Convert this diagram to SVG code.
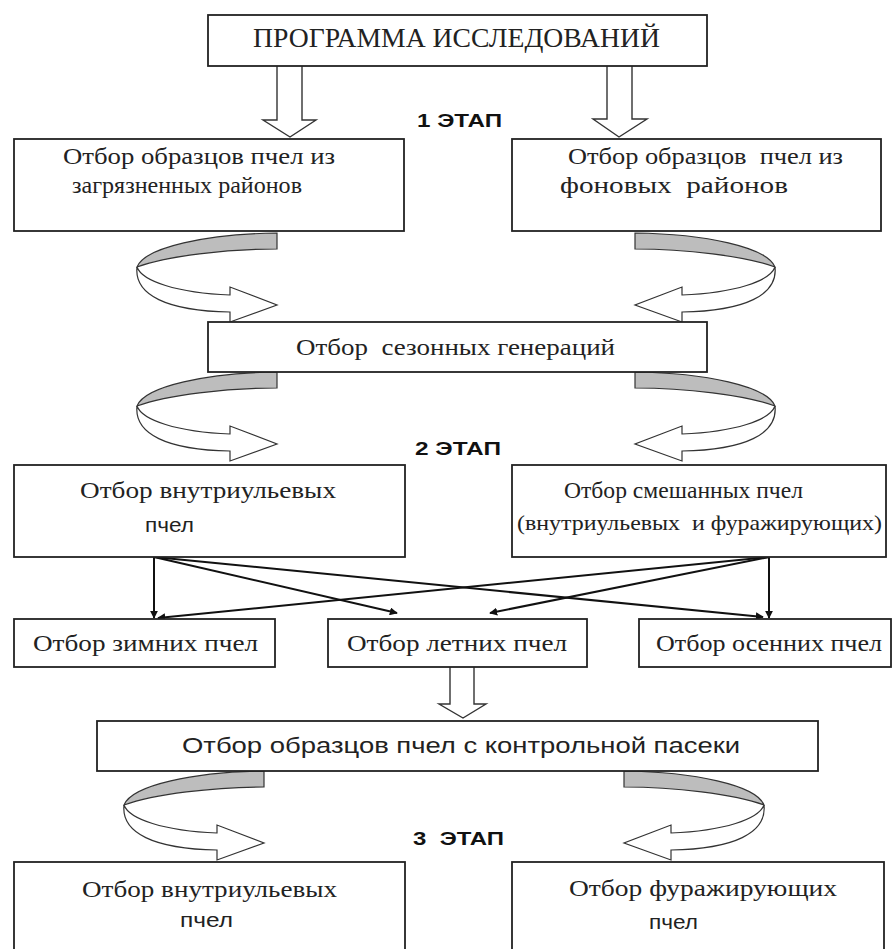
<svg xmlns="http://www.w3.org/2000/svg" width="893" height="949" viewBox="0 0 893 949">
<style>
.box{fill:#fff;stroke:#222;stroke-width:1.8}
.sr{font-family:"Liberation Serif","Times New Roman",serif;fill:#222}
.ss{font-family:"Liberation Sans",Arial,sans-serif;fill:#222}
.st{font-family:"Liberation Sans",Arial,sans-serif;font-weight:bold;font-size:18px;fill:#111}
.blk{fill:#fff;stroke:#333;stroke-width:1.4}
.gr{fill:#bdbdbd;stroke:#333;stroke-width:1.2}
.wh{fill:#fff;stroke:#333;stroke-width:1.2}
.ln{stroke:#111;stroke-width:2;fill:none;marker-end:url(#ah)}
</style>
<defs>
<marker id="ah" viewBox="0 0 10 10" refX="9" refY="5" markerWidth="4" markerHeight="4" orient="auto" markerUnits="strokeWidth">
<path d="M0,0 L10,5 L0,10 Z" fill="#111"/>
</marker>
<g id="curv">
<path class="gr" d="M0,0 C-70,1 -132,14 -140,34 C-110,23 -50,16 0,16 Z"/>
<path class="wh" d="M-140,34 C-135,48 -100,60 -47,62 L-47,54 L0,72 L-47,89 L-47,79 C-110,78 -143,62 -140,34 Z"/>
</g>
</defs>
<rect width="893" height="949" fill="#fff"/>

<g id="connectors">
<path class="blk" d="M277,66 L277,120 L263,120 L290,137 L316,120 L302,120 L302,66"/>
<path class="blk" d="M607,66 L607,119 L593,119 L619,137 L647,119 L632,119 L632,66"/>
<use href="#curv" x="277" y="233"/>
<use href="#curv" transform="translate(912,0) scale(-1,1)" x="277" y="233"/>
<use href="#curv" x="277" y="372"/>
<use href="#curv" transform="translate(912,0) scale(-1,1)" x="277" y="372"/>
<line class="ln" x1="154" y1="557" x2="154" y2="618"/>
<line class="ln" x1="154" y1="557" x2="397" y2="613"/>
<line class="ln" x1="154" y1="557" x2="763" y2="617"/>
<line class="ln" x1="769" y1="557" x2="769" y2="618"/>
<line class="ln" x1="769" y1="557" x2="158" y2="618"/>
<line class="ln" x1="769" y1="557" x2="490" y2="613"/>
<path class="blk" d="M450,667 L450,704 L439,704 L463,718 L486,704 L474,704 L474,667"/>
<use href="#curv" x="264" y="771"/>
<use href="#curv" transform="translate(888,0) scale(-1,1)" x="264" y="771"/>
</g>

<text class="st" x="417" y="127" textLength="85" lengthAdjust="spacingAndGlyphs">1 ЭТАП</text>
<text class="st" x="415" y="455" textLength="86" lengthAdjust="spacingAndGlyphs">2 ЭТАП</text>
<text class="st" x="413" y="845" textLength="91" lengthAdjust="spacingAndGlyphs" xml:space="preserve">3  ЭТАП</text>

<g id="n_program">
<rect class="box" x="208" y="15" width="499" height="51"/>
<text class="sr" x="253" y="47" font-size="27" textLength="407" lengthAdjust="spacingAndGlyphs">ПРОГРАММА ИССЛЕДОВАНИЙ</text>
</g>
<g id="n_polluted">
<rect class="box" x="14" y="139" width="390" height="92"/>
<text class="sr" x="63" y="164" font-size="24" textLength="272" lengthAdjust="spacingAndGlyphs">Отбор образцов пчел из</text>
<text class="sr" x="72" y="193" font-size="24" textLength="230" lengthAdjust="spacingAndGlyphs">загрязненных районов</text>
</g>
<g id="n_background">
<rect class="box" x="512" y="139" width="369" height="92"/>
<text class="sr" x="568" y="164" font-size="24" textLength="275" lengthAdjust="spacingAndGlyphs" xml:space="preserve">Отбор образцов  пчел из</text>
<text class="sr" x="560" y="193" font-size="24" textLength="228" lengthAdjust="spacingAndGlyphs" xml:space="preserve">фоновых  районов</text>
</g>
<g id="n_season">
<rect class="box" x="208" y="322" width="499" height="50"/>
<text class="sr" x="296" y="355" font-size="24" textLength="319" lengthAdjust="spacingAndGlyphs" xml:space="preserve">Отбор  сезонных генераций</text>
</g>
<g id="n_inhive">
<rect class="box" x="14" y="465" width="391" height="92"/>
<text class="sr" x="80" y="498" font-size="24" textLength="256" lengthAdjust="spacingAndGlyphs">Отбор внутриульевых</text>
<text class="ss" x="145" y="532" font-size="21" textLength="49" lengthAdjust="spacingAndGlyphs">пчел</text>
</g>
<g id="n_mixed">
<rect class="box" x="512" y="465" width="374" height="92"/>
<text class="sr" x="564" y="498" font-size="24" textLength="239" lengthAdjust="spacingAndGlyphs">Отбор смешанных пчел</text>
<text class="sr" x="517" y="530" font-size="21" textLength="365" lengthAdjust="spacingAndGlyphs" xml:space="preserve">(внутриульевых  и фуражирующих)</text>
</g>
<g id="n_winter">
<rect class="box" x="14" y="619" width="261" height="48"/>
<text class="sr" x="33" y="651" font-size="24" textLength="225" lengthAdjust="spacingAndGlyphs">Отбор зимних пчел</text>
</g>
<g id="n_summer">
<rect class="box" x="328" y="619" width="259" height="48"/>
<text class="sr" x="347" y="651" font-size="24" textLength="220" lengthAdjust="spacingAndGlyphs">Отбор летних пчел</text>
</g>
<g id="n_autumn">
<rect class="box" x="639" y="619" width="252" height="48"/>
<text class="sr" x="656" y="651" font-size="24" textLength="226" lengthAdjust="spacingAndGlyphs">Отбор осенних пчел</text>
</g>
<g id="n_control">
<rect class="box" x="97" y="721" width="721" height="50"/>
<text class="ss" x="182" y="753" font-size="22" textLength="558" lengthAdjust="spacingAndGlyphs">Отбор образцов пчел с контрольной пасеки</text>
</g>
<g id="n_inhive2">
<rect class="box" x="14" y="862" width="391" height="100"/>
<text class="sr" x="82" y="897" font-size="24" textLength="255" lengthAdjust="spacingAndGlyphs">Отбор внутриульевых</text>
<text class="ss" x="180" y="927" font-size="21" textLength="53" lengthAdjust="spacingAndGlyphs">пчел</text>
</g>
<g id="n_forager">
<rect class="box" x="512" y="862" width="372" height="100"/>
<text class="sr" x="569" y="896" font-size="24" textLength="268" lengthAdjust="spacingAndGlyphs">Отбор фуражирующих</text>
<text class="ss" x="649" y="929" font-size="21" textLength="49" lengthAdjust="spacingAndGlyphs">пчел</text>
</g>
</svg>
